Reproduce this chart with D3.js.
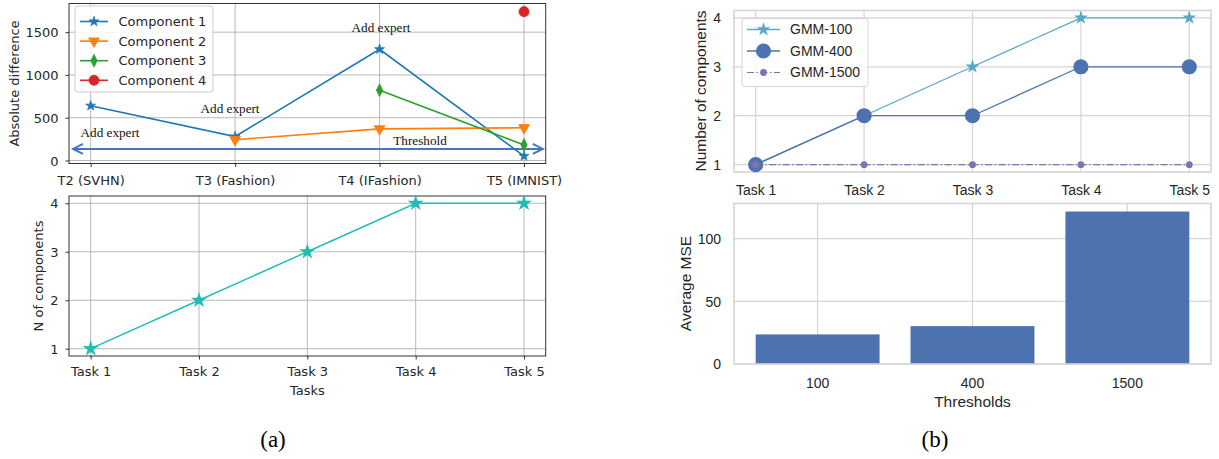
<!DOCTYPE html>
<html><head><meta charset="utf-8">
<script src="https://cdn.jsdelivr.net/npm/d3@7"></script>
<style>body{margin:0;background:#fff}svg{display:block}</style>
</head><body>
<svg id="c" width="1219" height="459"></svg>
<script>
// ---------- DATA ----------
const diffTasks = ["T2 (SVHN)", "T3 (Fashion)", "T4 (IFashion)", "T5 (IMNIST)"];
const comp1 = [640, 280, 1300, 52];
const comp2 = [null, 243, 370, 383];
const comp3 = [null, null, 822, 182];
const comp4 = [null, null, null, 1740];
const compNames = ["Component 1", "Component 2", "Component 3", "Component 4"];
const thresholdValue = 135;
const diffTicks = [0, 500, 1000, 1500];
const annotations = ["Add expert", "Add expert", "Add expert", "Threshold"];

const tasks = ["Task 1", "Task 2", "Task 3", "Task 4", "Task 5"];
const nComponents = [1, 2, 3, 4, 4];
const countTicks = [1, 2, 3, 4];

const gmmNames = ["GMM-100", "GMM-400", "GMM-1500"];
const gmm100 = [1, 2, 3, 4, 4];
const gmm400 = [1, 2, 2, 3, 3];
const gmm1500 = [1, 1, 1, 1, 1];

const thresholds = ["100", "400", "1500"];
const avgMSE = [23.6, 30.2, 121.6];
const mseTicks = [0, 50, 100];

// ---------- STYLE ----------
const svg = d3.select("#c");
const FL = "DejaVu Sans", FR = "Liberation Sans", FS = "Liberation Serif";
const TXT = "#262626";
const fmt = d3.format("d");

function star(size){ return d3.symbol().type(d3.symbolStar).size(size)(); }
function sym(type, size){ return d3.symbol().type(type).size(size)(); }

// matplotlib-style panel (left)
function mplPanel(x, y, xVals, xLabels, yVals, labelY) {
  const g = svg.append("g");
  const [x0, x1] = x.range(), [y0, y1] = y.range();
  g.selectAll(".gx").data(xVals).join("line")
    .attr("x1", d => x(d)).attr("x2", d => x(d)).attr("y1", y0).attr("y2", y1)
    .attr("stroke", "#b0b0b0").attr("stroke-width", 0.9);
  g.selectAll(".gy").data(yVals).join("line")
    .attr("y1", d => y(d)).attr("y2", d => y(d)).attr("x1", x0).attr("x2", x1)
    .attr("stroke", "#b0b0b0").attr("stroke-width", 0.9);
  const ax = g.append("g").attr("transform", `translate(0,${y0})`)
    .call(d3.axisBottom(x).tickValues(xVals).tickFormat((d, i) => xLabels[i]).tickSize(3.5).tickSizeOuter(0));
  ax.select(".domain").remove();
  ax.selectAll("line").attr("stroke", "#333");
  ax.selectAll("text").attr("y", labelY - y0).attr("dy", "0.35em")
    .attr("font-family", FL).attr("font-size", 13).attr("fill", TXT);
  const ay = g.append("g").attr("transform", `translate(${x0},0)`)
    .call(d3.axisLeft(y).tickValues(yVals).tickFormat(fmt).tickSize(3.5).tickSizeOuter(0).tickPadding(7));
  ay.select(".domain").remove();
  ay.selectAll("line").attr("stroke", "#333");
  ay.selectAll("text").attr("dy", "0.35em").attr("font-family", FL).attr("font-size", 13).attr("fill", TXT);
  g.append("rect").attr("x", x0).attr("y", y1).attr("width", x1 - x0).attr("height", y0 - y1)
    .attr("fill", "none").attr("stroke", "#333").attr("stroke-width", 1);
  return g;
}

// seaborn whitegrid panel (right)
function sbGrid(g, x0, x1, y0, y1, xs, ys) {
  g.selectAll(".gx").data(xs).join("line")
    .attr("x1", d => d).attr("x2", d => d).attr("y1", y0).attr("y2", y1)
    .attr("stroke", "#d5d5d5").attr("stroke-width", 1.2);
  g.selectAll(".gy").data(ys).join("line")
    .attr("y1", d => d).attr("y2", d => d).attr("x1", x0).attr("x2", x1)
    .attr("stroke", "#d5d5d5").attr("stroke-width", 1.2);
}
function sbFrame(g, x0, x1, y0, y1) {
  g.append("rect").attr("x", x0).attr("y", y1).attr("width", x1 - x0).attr("height", y0 - y1)
    .attr("fill", "none").attr("stroke", "#d5d5d5").attr("stroke-width", 1.6);
}
function sbAxes(g, xScale, yScale, xVals, xFmt, yVals, labelY, yLabelX) {
  const [x0] = xScale.range(), y0 = yScale.range()[0];
  const ax = g.append("g").attr("transform", `translate(0,${y0})`)
    .call(d3.axisBottom(xScale).tickValues(xVals).tickFormat(xFmt).tickSize(0));
  ax.select(".domain").remove();
  ax.selectAll("text").attr("y", labelY - y0).attr("dy", "0.35em")
    .attr("font-family", FR).attr("font-size", 14).attr("fill", TXT);
  const ay = g.append("g").attr("transform", `translate(${x0},0)`)
    .call(d3.axisLeft(yScale).tickValues(yVals).tickFormat(fmt).tickSize(0).tickPadding(x0 - yLabelX));
  ay.select(".domain").remove();
  ay.selectAll("text").attr("dy", "0.35em").attr("font-family", FR).attr("font-size", 14).attr("fill", TXT);
}
function vLabel(x, y, t, font, size) {
  svg.append("text").attr("transform", `translate(${x},${y}) rotate(-90)`)
    .attr("text-anchor", "middle").attr("dy", "0.35em")
    .attr("font-family", font).attr("font-size", size).attr("fill", TXT).text(t);
}
function hLabel(x, y, t, font, size, color) {
  return svg.append("text").attr("x", x).attr("y", y).attr("text-anchor", "middle").attr("dy", "0.35em")
    .attr("font-family", font).attr("font-size", size).attr("fill", color || TXT).text(t);
}

// ---------- (a) top: absolute difference ----------
const tlX = d3.scaleLinear().domain([-0.15, 3.15]).range([69, 545.7]);
const tlY = d3.scaleLinear().domain([-35, 1835]).range([163.5, 3.5]);
const idx4 = d3.range(diffTasks.length);
const gTL = mplPanel(tlX, tlY, idx4, diffTasks, diffTicks, 180.5);
vLabel(14, 83.5, "Absolute difference", FL, 13);

const arrowColor = "#4577c0";
const ax0 = tlX(-0.122), ax1 = tlX(3.13), ay = tlY(thresholdValue);
gTL.append("line").attr("x1", ax0).attr("x2", ax1).attr("y1", ay).attr("y2", ay)
  .attr("stroke", arrowColor).attr("stroke-width", 2);
[[ax0, 1], [ax1, -1]].forEach(([px, s]) => {
  gTL.append("path").attr("d", `M${px + s * 10},${ay - 5}L${px},${ay}L${px + s * 10},${ay + 5}`)
    .attr("fill", "none").attr("stroke", arrowColor).attr("stroke-width", 2);
});

const compSeries = [comp1, comp2, comp3, comp4];
const compColors = ["#1f77b4", "#ff7f0e", "#2ca02c", "#d62728"];
const compMarkers = [
  () => star(30),
  () => sym(d3.symbolTriangle, 52),
  () => sym(d3.symbolDiamond, 48),
  () => sym(d3.symbolCircle, 80)
];
const compRot = [0, 180, 0, 0];
const compScaleX = [1, 1, 0.85, 1];
compSeries.forEach((s, k) => {
  const line = d3.line().defined(d => d != null).x((d, i) => tlX(i)).y(d => tlY(d));
  gTL.append("path").attr("d", line(s)).attr("fill", "none")
    .attr("stroke", compColors[k]).attr("stroke-width", 1.6);
  gTL.selectAll(null).data(s.map((v, i) => [i, v]).filter(d => d[1] != null)).join("path")
    .attr("d", compMarkers[k]())
    .attr("transform", d => `translate(${tlX(d[0])},${tlY(d[1])}) rotate(${compRot[k]}) scale(${compScaleX[k]},1)`)
    .attr("fill", compColors[k]).attr("stroke", compColors[k]).attr("stroke-width", 0.8);
});

// annotations (data coordinates)
const annPos = [[0.134, 333], [0.965, 614], [2.01, 1560], [2.28, 231]];
annotations.forEach((t, i) => {
  hLabel(tlX(annPos[i][0]), tlY(annPos[i][1]), t, FS, 13.2, "#111");
});

// legend
const lg = svg.append("g");
lg.append("rect").attr("x", 75).attr("y", 6).attr("width", 138).attr("height", 86).attr("rx", 3)
  .attr("fill", "#fff").attr("fill-opacity", 0.85).attr("stroke", "#cccccc");
compNames.forEach((n, k) => {
  const yy = 21.5 + k * 19.6;
  lg.append("line").attr("x1", 80).attr("x2", 108).attr("y1", yy).attr("y2", yy)
    .attr("stroke", compColors[k]).attr("stroke-width", 1.6);
  lg.append("path").attr("d", compMarkers[k]())
    .attr("transform", `translate(94,${yy}) rotate(${compRot[k]}) scale(${compScaleX[k]},1)`)
    .attr("fill", compColors[k]).attr("stroke", compColors[k]).attr("stroke-width", 0.8);
  lg.append("text").attr("x", 118.5).attr("y", yy).attr("dy", "0.35em")
    .attr("font-family", FL).attr("font-size", 13).attr("fill", TXT).text(n);
});

// ---------- (a) bottom: N of components ----------
const blX = d3.scaleLinear().domain([-0.2, 4.2]).range([69, 545.7]);
const blY = d3.scaleLinear().domain([0.85, 4.15]).range([356, 196]);
const idx5 = d3.range(tasks.length);
const gBL = mplPanel(blX, blY, idx5, tasks, countTicks, 371.7);
vLabel(38.6, 276, "N of components", FL, 13);
hLabel(307.3, 390, "Tasks", FL, 13);
const teal = "#1fbdb6";
gBL.append("path").attr("d", d3.line().x((d, i) => blX(i)).y(d => blY(d))(nComponents))
  .attr("fill", "none").attr("stroke", teal).attr("stroke-width", 1.4);
gBL.selectAll(null).data(nComponents).join("path").attr("d", star(80))
  .attr("transform", (d, i) => `translate(${blX(i)},${blY(d)})`).attr("fill", teal);

// ---------- (b) top: Number of components ----------
const trX = d3.scaleLinear().domain([-0.2, 4.2]).range([734, 1211]);
const trY = d3.scaleLinear().domain([0.85, 4.15]).range([172, 10.5]);
const gTR = svg.append("g");
sbGrid(gTR, 734, 1211, 172, 10.5, idx5.map(trX), countTicks.map(trY));
sbFrame(gTR, 734, 1211, 172, 10.5);
sbAxes(gTR, trX, trY, idx5, (d, i) => tasks[i], countTicks, 190, 721);
vLabel(700.6, 91, "Number of components", FR, 15.5);

const gmmSeries = [gmm100, gmm400, gmm1500];
const gmmColors = ["#58a8c6", "#4c72b0", "#8172b2"];
const gmmMarkers = [() => star(60), () => sym(d3.symbolCircle, 180), () => sym(d3.symbolCircle, 36)];
const gmmDash = [null, null, "7,2.5,1.5,2.5"];
const gmmWidth = [1.3, 1.3, 1.2];
gmmSeries.forEach((s, k) => {
  gTR.append("path").attr("d", d3.line().x((d, i) => trX(i)).y(d => trY(d))(s))
    .attr("fill", "none").attr("stroke", gmmColors[k]).attr("stroke-width", gmmWidth[k])
    .attr("stroke-dasharray", gmmDash[k]);
  gTR.selectAll(null).data(s).join("path").attr("d", gmmMarkers[k]())
    .attr("transform", (d, i) => `translate(${trX(i)},${trY(d)})`).attr("fill", gmmColors[k]);
});
const lg2 = svg.append("g");
lg2.append("rect").attr("x", 742).attr("y", 18.5).attr("width", 126).attr("height", 68).attr("rx", 3)
  .attr("fill", "#fff").attr("fill-opacity", 0.85).attr("stroke", "#d5d5d5");
gmmNames.forEach((n, k) => {
  const yy = 29.5 + k * 21.5;
  lg2.append("line").attr("x1", 747).attr("x2", 780).attr("y1", yy).attr("y2", yy)
    .attr("stroke", gmmColors[k]).attr("stroke-width", gmmWidth[k]).attr("stroke-dasharray", gmmDash[k]);
  lg2.append("path").attr("d", gmmMarkers[k]()).attr("transform", `translate(763.5,${yy})`).attr("fill", gmmColors[k]);
  lg2.append("text").attr("x", 790).attr("y", yy).attr("dy", "0.35em")
    .attr("font-family", FR).attr("font-size", 14).attr("fill", TXT).text(n);
});

// ---------- (b) bottom: Average MSE ----------
const brX = d3.scaleBand().domain(thresholds).range([734, 1211]).paddingInner(0.2).paddingOuter(0.14);
const brY = d3.scaleLinear().domain([0, 128]).range([364, 203.5]);
const gBR = svg.append("g");
sbGrid(gBR, 734, 1211, 364, 203.5, thresholds.map(t => brX(t) + brX.bandwidth() / 2), mseTicks.map(brY));
gBR.selectAll(null).data(avgMSE).join("rect")
  .attr("x", (d, i) => brX(thresholds[i])).attr("width", brX.bandwidth())
  .attr("y", d => brY(d)).attr("height", d => brY(0) - brY(d)).attr("fill", "#4c72b0");
sbFrame(gBR, 734, 1211, 364, 203.5);
sbAxes(gBR, brX, brY, thresholds, d => d, mseTicks, 382.7, 721);
vLabel(686, 283.5, "Average MSE", FR, 15.5);
hLabel(972.5, 401.7, "Thresholds", FR, 15.5);

// ---------- captions ----------
hLabel(273, 439, "(a)", FS, 23, "#000");
hLabel(935, 439, "(b)", FS, 23, "#000");
</script>
</body></html>
